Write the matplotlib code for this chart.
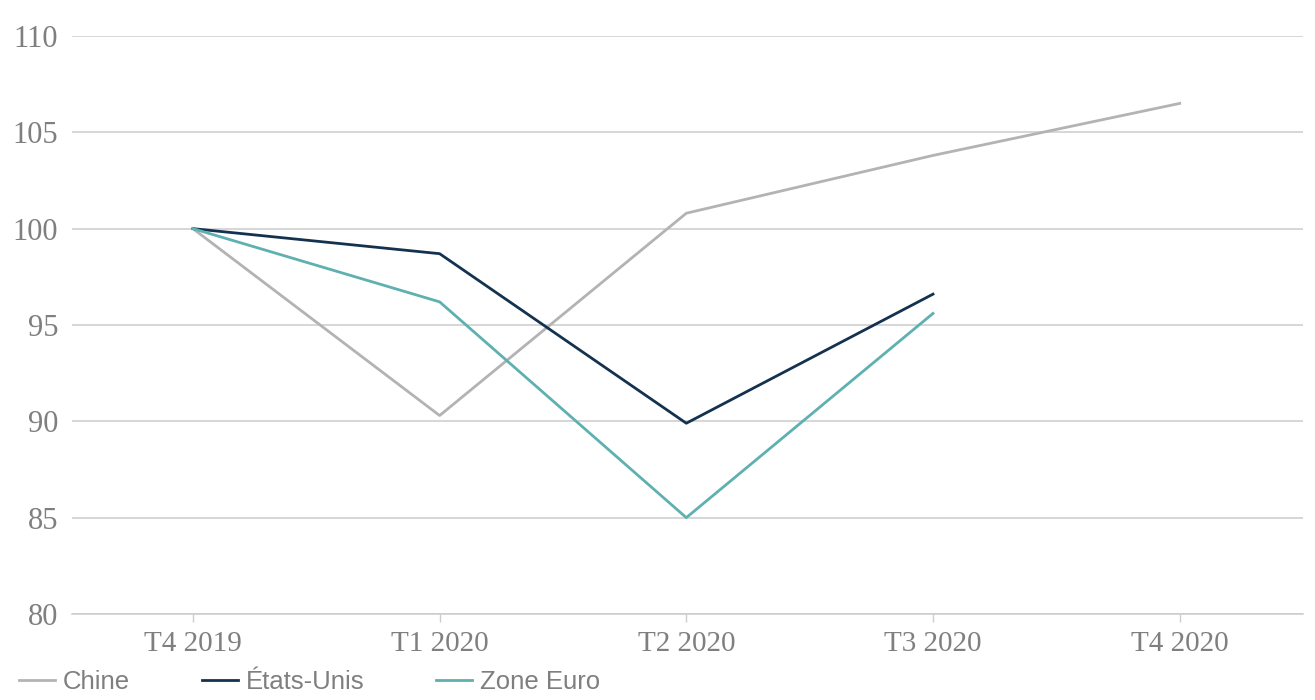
import matplotlib.pyplot as plt

trimestres = ["T4 2019", "T1 2020", "T2 2020", "T3 2020", "T4 2020"]
chine = [100, 90.3, 100.8, 103.8, 106.5]
etats_unis = [100, 98.7, 89.9, 96.6]
zone_euro = [100, 96.2, 85.0, 95.6]
y_ticks = [80, 85, 90, 95, 100, 105, 110]

fig = plt.figure(figsize=(13.15, 7), dpi=100)
ax = fig.add_axes([0.0548, 0.1229, 0.9361, 0.8257])

x = list(range(len(trimestres)))
ax.plot(x, chine, color="#b3b3b3", lw=2.0, label="Chine")
ax.plot(x[:len(etats_unis)], etats_unis, color="#14324f", lw=2.0, label="États-Unis")
ax.plot(x[:len(zone_euro)], zone_euro, color="#5fb0b0", lw=2.0, label="Zone Euro")

ax.set_xlim(-0.49, 4.5)
ax.set_ylim(80, 110)
ax.set_yticks(y_ticks)
ax.set_xticks(x)
ax.set_xticklabels(trimestres)
ax.grid(axis="y", color="#cccccc", lw=1.1)
ax.set_axisbelow(True)

for s in ["top", "right", "left"]:
    ax.spines[s].set_visible(False)
ax.spines["bottom"].set_color("#cccccc")
ax.spines["bottom"].set_linewidth(1.1)

ax.tick_params(axis="y", length=0, pad=10, labelcolor="#7f7f7f", labelsize=22)
ax.tick_params(axis="x", length=6, width=1, color="#cccccc", pad=6,
               labelcolor="#7f7f7f", labelsize=21)
for lab in ax.get_xticklabels() + ax.get_yticklabels():
    lab.set_family("Liberation Serif")

# legend sits at the very bottom edge, as in the source
leg = fig.legend(loc="lower left", bbox_to_anchor=(-0.003, -0.025), ncol=3, frameon=False,
                 handlelength=1.4, handletextpad=0.3, columnspacing=2.8,
                 prop={"family": "Liberation Sans", "size": 18.5})
for t in leg.get_texts():
    t.set_color("#7f7f7f")

fig.savefig("out.png", dpi=100)
